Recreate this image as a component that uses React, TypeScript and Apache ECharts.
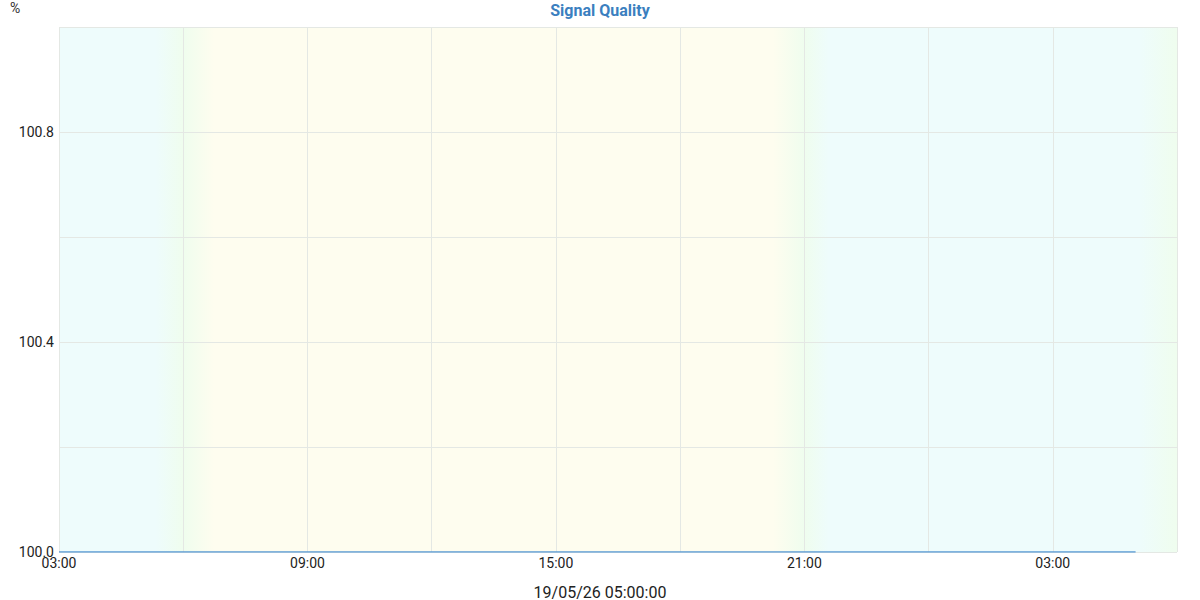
import { useEffect, useRef } from 'react'
import * as echarts from 'echarts'

const TITLE = 'Signal Quality'
const UNIT = '%'
const CURSOR_LABEL = '19/05/26 05:00:00'

const X_MIN = '2026-05-19T03:00:00Z'
const X_MAX = '2026-05-20T06:00:00Z'

const TIMES = [
  '2026-05-19T03:00:00Z', '2026-05-19T04:00:00Z', '2026-05-19T05:00:00Z', '2026-05-19T06:00:00Z',
  '2026-05-19T07:00:00Z', '2026-05-19T08:00:00Z', '2026-05-19T09:00:00Z', '2026-05-19T10:00:00Z',
  '2026-05-19T11:00:00Z', '2026-05-19T12:00:00Z', '2026-05-19T13:00:00Z', '2026-05-19T14:00:00Z',
  '2026-05-19T15:00:00Z', '2026-05-19T16:00:00Z', '2026-05-19T17:00:00Z', '2026-05-19T18:00:00Z',
  '2026-05-19T19:00:00Z', '2026-05-19T20:00:00Z', '2026-05-19T21:00:00Z', '2026-05-19T22:00:00Z',
  '2026-05-19T23:00:00Z', '2026-05-20T00:00:00Z', '2026-05-20T01:00:00Z', '2026-05-20T02:00:00Z',
  '2026-05-20T03:00:00Z', '2026-05-20T04:00:00Z', '2026-05-20T05:00:00Z',
]
const QUALITY = [
  100, 100, 100, 100, 100, 100, 100, 100, 100, 100, 100, 100, 100, 100,
  100, 100, 100, 100, 100, 100, 100, 100, 100, 100, 100, 100, 100,
]

// day / night shading as colour stops along the time axis
const NIGHT = '#eefcfc'
const DAWN = '#effdee'
const DAY = '#fefdef'
const SHADE_TIMES = [
  '2026-05-19T03:00:00Z', '2026-05-19T05:20:00Z', '2026-05-19T06:00:00Z', '2026-05-19T06:45:00Z',
  '2026-05-19T20:15:00Z', '2026-05-19T21:00:00Z', '2026-05-19T21:35:00Z', '2026-05-20T05:05:00Z',
  '2026-05-20T06:00:00Z',
]
const SHADE_COLORS = [NIGHT, NIGHT, DAWN, DAY, DAY, DAWN, NIGHT, NIGHT, DAWN]

const HOUR = 3600 * 1000
const FONT = 'Roboto'
const GRID_COLOR = '#e4e8e4'

const pad = (n: number) => String(n).padStart(2, '0')

export default function App() {
  const ref = useRef<HTMLDivElement>(null)

  useEffect(() => {
    if (!ref.current) return
    const chart = echarts.init(ref.current, undefined, { renderer: 'svg' })

    const xMin = Date.parse(X_MIN)
    const xMax = Date.parse(X_MAX)
    const stops = SHADE_TIMES.map((t, i) => ({
      offset: (Date.parse(t) - xMin) / (xMax - xMin),
      color: SHADE_COLORS[i],
    }))

    chart.setOption({
      animation: false,
      backgroundColor: '#ffffff',
      textStyle: { fontFamily: FONT },
      title: [
        {
          text: TITLE,
          left: 'center',
          top: -3,
          textStyle: { color: '#3b7fbf', fontSize: 16, fontWeight: 'bold', fontFamily: FONT },
        },
        {
          text: CURSOR_LABEL,
          left: 'center',
          top: 579,
          textStyle: { color: '#222222', fontSize: 16, fontWeight: 'normal', fontFamily: FONT },
        },
      ],
      graphic: [
        {
          type: 'text',
          left: 10,
          top: 1,
          style: { text: UNIT, fill: '#333333', fontSize: 14, fontFamily: FONT },
        },
      ],
      grid: { left: 59, right: 23, top: 27, bottom: 48 },
      xAxis: {
        type: 'value',
        min: xMin,
        max: xMax,
        interval: 3 * HOUR,
        axisLine: { show: false },
        axisTick: { show: false },
        splitLine: { show: true, lineStyle: { color: GRID_COLOR, width: 1 } },
        axisLabel: {
          color: '#222222',
          fontSize: 14,
          margin: 4,
          showMaxLabel: false,
          formatter: (v: number) => {
            const d = new Date(v)
            if (d.getUTCHours() % 6 !== 3) return ''
            return pad(d.getUTCHours()) + ':' + pad(d.getUTCMinutes())
          },
        },
      },
      yAxis: {
        type: 'value',
        min: 100,
        max: 101,
        interval: 0.2,
        axisLine: { show: false },
        axisTick: { show: false },
        splitLine: { show: true, lineStyle: { color: GRID_COLOR, width: 1 } },
        axisLabel: {
          color: '#222222',
          fontSize: 14,
          margin: 5,
          formatter: (v: number) => {
            const step = Math.round((v - 100) * 10)
            return step % 4 === 0 ? v.toFixed(1) : ''
          },
        },
      },
      series: [
        {
          type: 'line',
          z: -1,
          silent: true,
          data: [],
          markArea: {
            silent: true,
            z: -1,
            data: [
              [
                {
                  xAxis: xMin,
                  itemStyle: {
                    opacity: 1,
                    color: new echarts.graphic.LinearGradient(0, 0, 1, 0, stops),
                  },
                },
                { xAxis: xMax },
              ],
            ],
          },
        },
        {
          type: 'line',
          name: TITLE,
          data: TIMES.map((t, i) => [Date.parse(t), QUALITY[i]]),
          showSymbol: false,
          lineStyle: { color: '#5b9bd5', width: 1.5 },
          itemStyle: { color: '#5b9bd5' },
        },
      ],
    })

    const onResize = () => chart.resize()
    window.addEventListener('resize', onResize)
    return () => {
      window.removeEventListener('resize', onResize)
      chart.dispose()
    }
  }, [])

  return <div ref={ref} style={{ position: 'fixed', left: 0, top: 0, width: 1200, height: 600 }} />
}
